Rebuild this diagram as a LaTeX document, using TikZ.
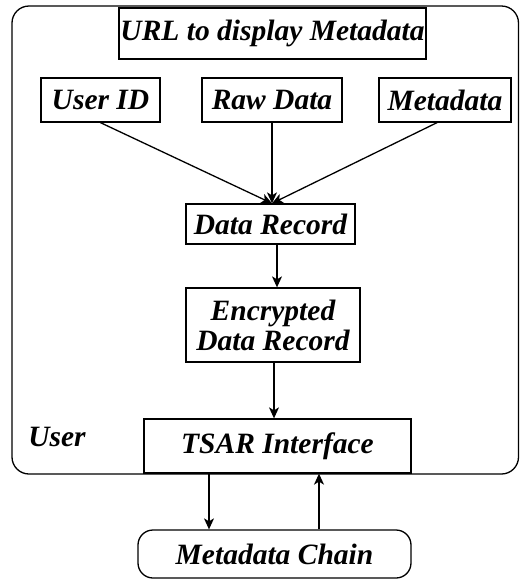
\documentclass[tikz,border=0pt]{standalone}
\usepackage{fontspec}
\setmainfont{Liberation Serif}
\usetikzlibrary{arrows.meta}
\begin{document}
\begin{tikzpicture}[x=1pt,y=-1pt,
  every node/.style={font=\fontsize{29.5}{30}\selectfont\bfseries\itshape, inner sep=0pt, align=center},
  box/.style={draw, line width=1.3pt},
  arr/.style={line width=1.3pt, -{Stealth[length=11pt,width=10pt,inset=3pt]}}]
\useasboundingbox (0,0) rectangle (520,579);
\draw[line width=1.3pt, rounded corners=17pt] (12,6) rectangle (518.5,474);
\node[box, minimum width=307pt, minimum height=51pt] (url) at (272.5,33.5) {URL to display Metadata};
\node[box, minimum width=119pt, minimum height=44pt] (uid) at (100.5,100) {User ID};
\node[box, minimum width=140pt, minimum height=44pt] (raw) at (272,100) {Raw Data};
\node[box, minimum width=132pt, minimum height=44pt] (meta) at (445,100) {Metadata};
\node[box, minimum width=169pt, minimum height=40pt] (dr) at (270.5,224) {Data Record};
\node[box, minimum width=174pt, minimum height=74pt] (enc) at (273,325) {Encrypted\\Data Record};
\node[box, minimum width=267pt, minimum height=54pt] (tsar) at (277.5,446) {TSAR Interface};
\node[box, rounded corners=15pt, minimum width=273pt, minimum height=48pt] (chain) at (274.5,554) {Metadata Chain};
\node (user) at (57,437) {User};
\draw[arr] (uid.south) -- ([xshift=1.5pt]dr.north);
\draw[arr] (raw.south) -- ([xshift=1.5pt]dr.north);
\draw[arr] ([xshift=-8pt]meta.south) -- ([xshift=1.5pt]dr.north);
\draw[arr] ([xshift=6.5pt]dr.south) -- ([xshift=4pt]enc.north);
\draw[arr] ([xshift=1pt]enc.south) -- ([xshift=-3.5pt]tsar.north);
\draw[arr] ([xshift=-68.5pt]tsar.south) -- ([xshift=-65.5pt]chain.north);
\draw[arr] ([xshift=44.5pt]chain.north) -- ([xshift=41.5pt]tsar.south);
\end{tikzpicture}
\end{document}
